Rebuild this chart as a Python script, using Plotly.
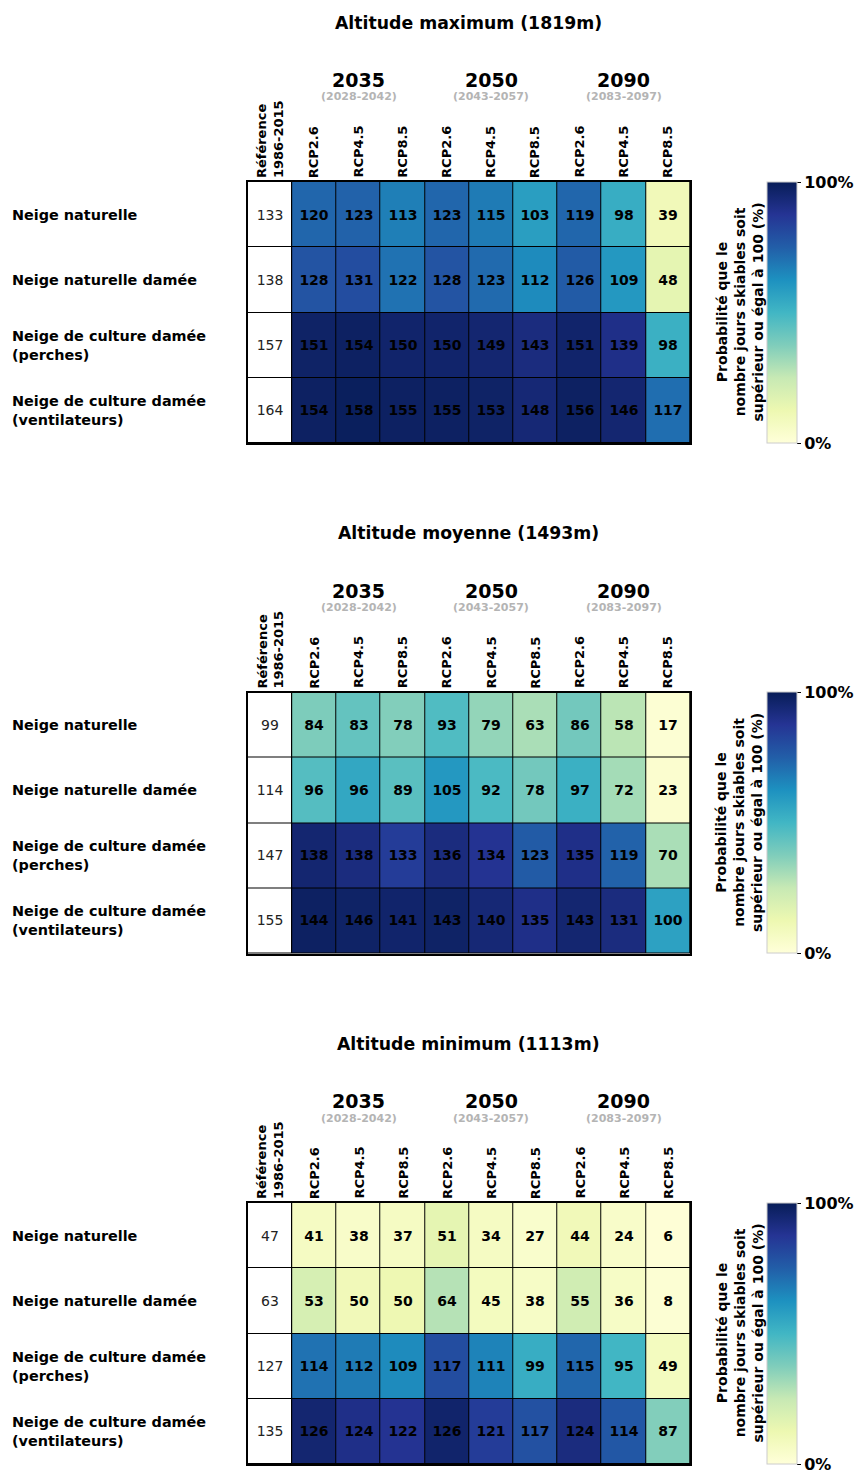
import plotly.graph_objects as go

W, H = 859, 1475

# ---------------- data ----------------
titles = ["Altitude maximum (1819m)", "Altitude moyenne (1493m)", "Altitude minimum (1113m)"]
row_labels = ["Neige naturelle", "Neige naturelle damée",
              "Neige de culture damée<br>(perches)", "Neige de culture damée<br>(ventilateurs)"]
ref_label = "Référence<br>1986-2015"
scenarios = ["RCP2.6", "RCP4.5", "RCP8.5"]
horizons = ["2035", "2050", "2090"]
periods = ["(2028-2042)", "(2043-2057)", "(2083-2097)"]
cbar_title = "Probabilité que le<br>nombre jours skiables soit<br>supérieur ou égal à 100 (%)"
cbar_ticks = [0, 100]
cbar_ticktext = ["0%", "100%"]

# reference values (1986-2015), days
ref_max = [133, 138, 157, 164]
ref_moy = [99, 114, 147, 155]
ref_min = [47, 63, 127, 135]

# median number of skiable days per scenario (2035 x3, 2050 x3, 2090 x3)
days_max = [[120, 123, 113, 123, 115, 103, 119, 98, 39],
            [128, 131, 122, 128, 123, 112, 126, 109, 48],
            [151, 154, 150, 150, 149, 143, 151, 139, 98],
            [154, 158, 155, 155, 153, 148, 156, 146, 117]]
days_moy = [[84, 83, 78, 93, 79, 63, 86, 58, 17],
            [96, 96, 89, 105, 92, 78, 97, 72, 23],
            [138, 138, 133, 136, 134, 123, 135, 119, 70],
            [144, 146, 141, 143, 140, 135, 143, 131, 100]]
days_min = [[41, 38, 37, 51, 34, 27, 44, 24, 6],
            [53, 50, 50, 64, 45, 38, 55, 36, 8],
            [114, 112, 109, 117, 111, 99, 115, 95, 49],
            [126, 124, 122, 126, 121, 117, 124, 114, 87]]

prob_max = [[73, 74, 67, 73, 68, 58, 73, 53, 10],
            [78, 80, 70, 78, 72, 64, 76, 60, 15],
            [97, 98, 96, 96, 95, 92, 96, 90, 52],
            [98, 99, 98, 98, 97, 94, 98, 95, 71]]
prob_moy = [[38, 43, 37, 47, 34, 30, 40, 27, 2],
            [46, 55, 45, 60, 48, 40, 52, 31, 3],
            [95, 92, 85, 92, 88, 76, 90, 74, 30],
            [98, 97, 96, 97, 94, 90, 95, 92, 57]]
prob_min = [[7, 5, 7, 15, 7, 4, 10, 5, 1],
            [20, 10, 12, 28, 8, 6, 22, 6, 2],
            [70, 68, 64, 80, 66, 53, 73, 50, 8],
            [95, 90, 88, 96, 85, 79, 92, 77, 37]]

panels = [
    (titles[0], ref_max, days_max, prob_max),
    (titles[1], ref_moy, days_moy, prob_moy),
    (titles[2], ref_min, days_min, prob_min),
]

ylgnbu = [[0.0, "#ffffd9"], [0.125, "#edf8b1"], [0.25, "#c7e9b4"], [0.375, "#7fcdbb"],
          [0.5, "#41b6c4"], [0.625, "#1d91c0"], [0.75, "#225ea8"], [0.875, "#253494"],
          [1.0, "#081d58"]]

# ---------------- layout geometry (pixels) ----------------
FONT = "DejaVu Sans"
grid_left, grid_right = 248, 690
grid_top0, grid_h = 182, 261
panel_step = 510.5
cb_left = 767


def py(p):
    return 1 - p / H


def px(p):
    return p / W


fig = go.Figure()
annotations = []
layout = dict(
    width=W, height=H,
    margin=dict(l=0, r=0, t=0, b=0),
    paper_bgcolor="white", plot_bgcolor="black",
    showlegend=False,
    font=dict(family=FONT, color="black"),
)

ncols = 1 + len(horizons) * len(scenarios)

for k, (title, ref, days, prob) in enumerate(panels):
    off = k * panel_step
    top = grid_top0 + off
    bot = top + grid_h
    sfx = "" if k == 0 else str(k + 1)
    xa, ya = "x" + sfx, "y" + sfx
    ca = "coloraxis" + sfx

    # reference column (white cells)
    fig.add_trace(go.Heatmap(
        z=[[0] for _ in ref], text=[[v] for v in ref], x0=0, dx=1, y0=0, dy=1,
        colorscale=[[0, "white"], [1, "white"]], showscale=False,
        texttemplate="%{text}", textfont=dict(family=FONT, size=14, color="#222222"),
        xgap=1, ygap=1, hoverinfo="skip", xaxis=xa, yaxis=ya))
    # scenario columns
    fig.add_trace(go.Heatmap(
        z=prob, text=days, x0=1, dx=1, y0=0, dy=1, coloraxis=ca,
        texttemplate="<b>%{text}</b>", textfont=dict(family=FONT, size=14, color="black"),
        xgap=1, ygap=1, hoverinfo="skip", xaxis=xa, yaxis=ya))

    layout["xaxis" + sfx] = dict(
        domain=[px(grid_left), px(grid_right)], range=[-0.5, ncols - 0.5],
        showticklabels=False, showgrid=False, zeroline=False, ticks="",
        showline=True, mirror=True, linecolor="black", linewidth=2, anchor=ya)
    layout["yaxis" + sfx] = dict(
        domain=[py(bot), py(top)], range=[len(row_labels) - 0.5, -0.5],
        showticklabels=False, showgrid=False, zeroline=False, ticks="",
        showline=True, mirror=True, linecolor="black", linewidth=2, anchor=xa)

    layout[ca] = dict(
        colorscale=ylgnbu, cmin=0, cmax=100,
        colorbar=dict(
            x=px(cb_left), xanchor="left", xpad=0, ypad=0,
            y=py((top + bot) / 2), yanchor="middle", len=grid_h / H, lenmode="fraction",
            thickness=30, thicknessmode="pixels",
            outlinecolor="#cccccc", outlinewidth=1,
            tickvals=cbar_ticks, ticktext=cbar_ticktext,
            ticks="outside", ticklen=4, tickcolor="black",
            ticklabeloverflow="allow",
            tickfont=dict(family=FONT, size=16, color="black", weight="bold"),
        ))

    # panel title
    annotations.append(dict(text="<b>" + title + "</b>", xref="paper", yref="paper",
                            x=px(468), y=py(23 + off), xanchor="center", yanchor="middle",
                            showarrow=False, font=dict(size=17.3)))
    # horizons & periods
    for h, (yr, per) in enumerate(zip(horizons, periods)):
        xc = 1 + h * len(scenarios) + (len(scenarios) - 1) / 2
        annotations.append(dict(text="<b>" + yr + "</b>", xref=xa, yref="paper",
                                x=xc, y=py(80 + off), xanchor="center", yanchor="middle",
                                showarrow=False, font=dict(size=19)))
        annotations.append(dict(text="<b>" + per + "</b>", xref=xa, yref="paper",
                                x=xc, y=py(97 + off), xanchor="center", yanchor="middle",
                                showarrow=False, font=dict(size=11, color="#b4b4b4")))
        for s, sc in enumerate(scenarios):
            annotations.append(dict(text="<b>" + sc + "</b>", xref=xa, yref="paper",
                                    x=1 + h * len(scenarios) + s, y=py(top - 2),
                                    xanchor="center", yanchor="bottom", textangle=-90,
                                    showarrow=False, font=dict(size=13)))
    annotations.append(dict(text="<b>" + ref_label + "</b>", xref=xa, yref="paper",
                            x=0, y=py(top - 2), xanchor="center", yanchor="bottom",
                            textangle=-90, align="left", showarrow=False, font=dict(size=13)))
    # row labels
    for r, lab in enumerate(row_labels):
        annotations.append(dict(text="<b>" + lab + "</b>", xref="paper", yref=ya,
                                x=px(10), y=r, xanchor="left", yanchor="middle",
                                align="left", showarrow=False, font=dict(size=14.4)))
    # colorbar title
    annotations.append(dict(text="<b>" + cbar_title + "</b>", xref="paper", yref="paper",
                            x=px(739), y=py((top + bot) / 2), xanchor="center", yanchor="middle",
                            textangle=-90, align="center", showarrow=False,
                            font=dict(size=14)))

layout["annotations"] = annotations
fig.update_layout(**layout)
fig.write_html(
    "out.html",
    config={"displayModeBar": False},
    post_script="document.body.style.margin='0';document.body.style.overflow='hidden';",
)
